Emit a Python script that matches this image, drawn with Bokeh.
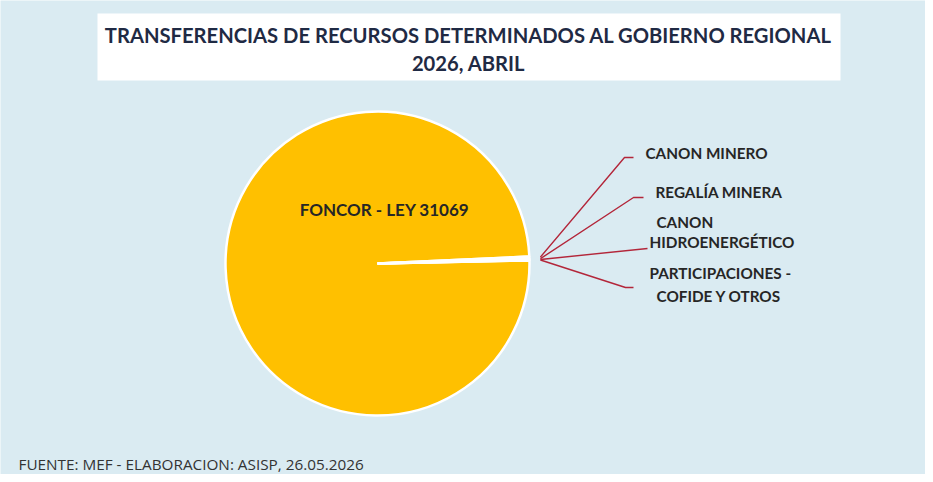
import math
from bokeh.plotting import figure
from bokeh.models import Range1d
from bokeh.core.properties import value
from bokeh.embed import file_html
from bokeh.resources import INLINE

# ---- data ----
categories = ["FONCOR - LEY 31069", "PARTICIPACIONES - COFIDE Y OTROS",
              "CANON HIDROENERGÉTICO", "REGALÍA MINERA", "CANON MINERO"]
shares = [99.6, 0.04, 0.06, 0.10, 0.20]
title_lines = ["TRANSFERENCIAS DE RECURSOS DETERMINADOS AL GOBIERNO REGIONAL", "2026, ABRIL"]
footer = "FUENTE: MEF - ELABORACION: ASISP, 26.05.2026"

W, H = 925, 474
def X(px): return px
def Y(py): return H - py

BG = "#DAEBF2"
p = figure(width=W, height=H, output_backend="svg", toolbar_location=None,
           x_range=Range1d(0, W), y_range=Range1d(0, H),
           x_axis_location=None, y_axis_location=None, min_border=0,
           background_fill_color=BG, border_fill_color=BG, outline_line_color=None)
p.grid.visible = False

# title box
p.quad(left=[X(97)], right=[X(840)], bottom=[Y(80)], top=[Y(13)],
       fill_color="white", line_color=None)
p.text(x=[X(468)] * 2, y=[Y(34), Y(62)], text=title_lines,
       text_font=value("Lato"), text_font_style="bold", text_font_size="20.2px",
       text_color="#1F2A44", text_align="center", text_baseline="middle")

# pie
cx, cy, R = X(377), Y(263), 152
offset = math.radians(2.6)
total = sum(shares)
starts, ends = [], []
acc = 0.0
for s in shares:
    a0 = offset + acc / total * 2 * math.pi
    acc += s
    a1 = offset + acc / total * 2 * math.pi
    starts.append(a0); ends.append(a1)
p.wedge(x=[cx] * len(shares), y=[cy] * len(shares), radius=R,
        start_angle=starts, end_angle=ends,
        fill_color="#FFC000", line_color="white", line_width=2.5)

p.text(x=[X(384)], y=[Y(209)], text=[categories[0]],
       text_font=value("Lato"), text_font_style="bold", text_font_size="17px",
       text_color="#262626", text_align="center", text_baseline="middle")

# leader lines for small slices
elbows = {1: ((625, 287), (633, 287)), 2: ((647, 248), (647, 248)),
          3: ((633, 197), (643, 197)), 4: ((624, 157), (633, 157))}
for i, ((ex, ey), (tx, ty)) in elbows.items():
    mid = (starts[i] + ends[i]) / 2
    sx = cx + (R + 11) * math.cos(mid)
    sy = cy + (R + 11) * math.sin(mid)
    p.line(x=[sx, X(ex), X(tx)], y=[sy, Y(ey), Y(ty)],
           line_color="#B3263A", line_width=1.4)

label_lines = {4: [("CANON MINERO", 645, 152)],
               3: [("REGALÍA MINERA", 655, 191)],
               2: [("CANON", 656, 221), ("HIDROENERGÉTICO", 649, 241)],
               1: [("PARTICIPACIONES -", 649, 272), ("COFIDE Y OTROS", 656, 295)]}
lx, ly, lt = [], [], []
for i, lines in label_lines.items():
    for t, px, py in lines:
        lx.append(X(px)); ly.append(Y(py)); lt.append(t)
p.text(x=lx, y=ly, text=lt, text_font=value("Lato"), text_font_style="bold",
       text_font_size="15.3px", text_color="#262626",
       text_align="left", text_baseline="middle")

# footer
p.text(x=[X(18)], y=[Y(463)], text=[footer], text_font=value("Open Sans"),
       text_font_size="15.3px", text_color="#333333",
       text_align="left", text_baseline="middle")

open("out.html", "w").write(file_html(p, INLINE))
